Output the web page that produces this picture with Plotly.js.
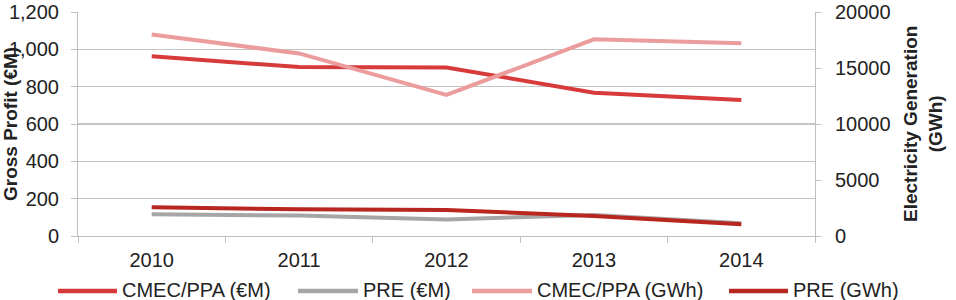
<!DOCTYPE html>
<html>
<head>
<meta charset="utf-8">
<script src="https://cdn.plot.ly/plotly-3.0.1.min.js"></script>
<style>
  html, body { margin: 0; padding: 0; background: #fff; }
  #chart { width: 956px; height: 300px; }
</style>
</head>
<body>
<div id="chart"></div>
<script>
// Years on the category axis
const years = ['2010', '2011', '2012', '2013', '2014'];

// Gross profit, million euros (left axis)
const cmecProfit = [963, 905, 903, 768, 728];
const preProfit = [116, 110, 89, 112, 68];

// Electricity generation, GWh (right axis)
const cmecGen = [18000, 16300, 12590, 17560, 17200];
const preGen = [2560, 2380, 2320, 1790, 1040];

const seriesNames = ['CMEC/PPA (€M)', 'PRE (€M)', 'CMEC/PPA (GWh)', 'PRE (GWh)'];
const seriesColors = ['#d63a3b', '#a6a6a6', '#eb9c9d', '#b8271f'];

const font = 'Liberation Sans, Arial, sans-serif';

// Plot area geometry (pixels)
const W = 956, H = 300;
const M = { l: 78, r: 141, t: 12, b: 64 };
const plotW = W - M.l - M.r, plotH = H - M.t - M.b;
const px2x = px => (px - M.l) / plotW;
const py2y = py => (H - M.b - py) / plotH;

function line(name, color, x, y, axis) {
  return {
    type: 'scatter', mode: 'lines', name: name, x: x, y: y, yaxis: axis,
    line: { color: color, width: 4 }, showlegend: false
  };
}

const traces = [
  line(seriesNames[0], seriesColors[0], years, cmecProfit, 'y'),
  line(seriesNames[1], seriesColors[1], years, preProfit, 'y'),
  line(seriesNames[2], seriesColors[2], years, cmecGen, 'y2'),
  line(seriesNames[3], seriesColors[3], years, preGen, 'y2')
];

// Legend row below the axis: a line swatch followed by the series name
const legendSwatch = [[58, 117], [298, 358], [472, 532], [729, 788]];
const legendY = 291;
const shapes = [];
const annotations = [];
seriesNames.forEach((name, i) => {
  const [a, b] = legendSwatch[i];
  shapes.push({
    type: 'line', xref: 'paper', yref: 'paper',
    x0: px2x(a), x1: px2x(b), y0: py2y(legendY), y1: py2y(legendY),
    line: { color: seriesColors[i], width: 4.5 }
  });
  annotations.push({
    text: name, xref: 'paper', yref: 'paper',
    x: px2x(b + 3), y: py2y(legendY - 1), xanchor: 'left', yanchor: 'middle',
    showarrow: false, font: { family: font, size: 20, color: '#222' }
  });
});

annotations.push(
  {
    text: '<b>Gross Profit (€M)</b>', textangle: -90,
    xref: 'paper', yref: 'paper', x: 0, y: 0.5, xanchor: 'center', yanchor: 'middle',
    xshift: -68, showarrow: false,
    font: { family: font, size: 19, color: '#222' }
  },
  {
    text: '<b>Electricity Generation<br>(GWh)</b>', textangle: -90,
    xref: 'paper', yref: 'paper', x: 1, y: 0.5, xanchor: 'center', yanchor: 'middle',
    xshift: 108, showarrow: false,
    font: { family: font, size: 19, color: '#222' }
  }
);

const layout = {
  width: W, height: H,
  margin: M,
  paper_bgcolor: '#fff', plot_bgcolor: '#fff',
  font: { family: font, size: 20, color: '#222' },
  showlegend: false,
  xaxis: {
    type: 'category', range: [-0.5, 4.5], tickson: 'boundaries', ticks: 'outside', ticklen: 6,
    tickcolor: '#bfbfbf', showline: true, linecolor: '#bfbfbf', linewidth: 1,
    showgrid: false, zeroline: false, ticklabelstandoff: 6,
    tickfont: { family: font, size: 20, color: '#222' }
  },
  yaxis: {
    range: [0, 1200], dtick: 200, tickformat: ',d',
    ticks: 'outside', ticklen: 6, tickcolor: '#bfbfbf',
    showline: true, linecolor: '#bfbfbf', linewidth: 1,
    showgrid: true, gridcolor: '#c4c4c4', gridwidth: 1.3, zeroline: false,
    ticklabelstandoff: 8,
    tickfont: { family: font, size: 20, color: '#222' }
  },
  yaxis2: {
    overlaying: 'y', side: 'right', range: [0, 20000], dtick: 5000, tickformat: 'd',
    ticks: 'outside', ticklen: 5, tickcolor: '#bfbfbf',
    showline: true, linecolor: '#bfbfbf', linewidth: 1,
    showgrid: false, zeroline: false, ticklabelstandoff: 10,
    tickfont: { family: font, size: 20, color: '#222' }
  },
  shapes: shapes,
  annotations: annotations
};

Plotly.newPlot('chart', traces, layout, { staticPlot: true, displayModeBar: false });
</script>
</body>
</html>
